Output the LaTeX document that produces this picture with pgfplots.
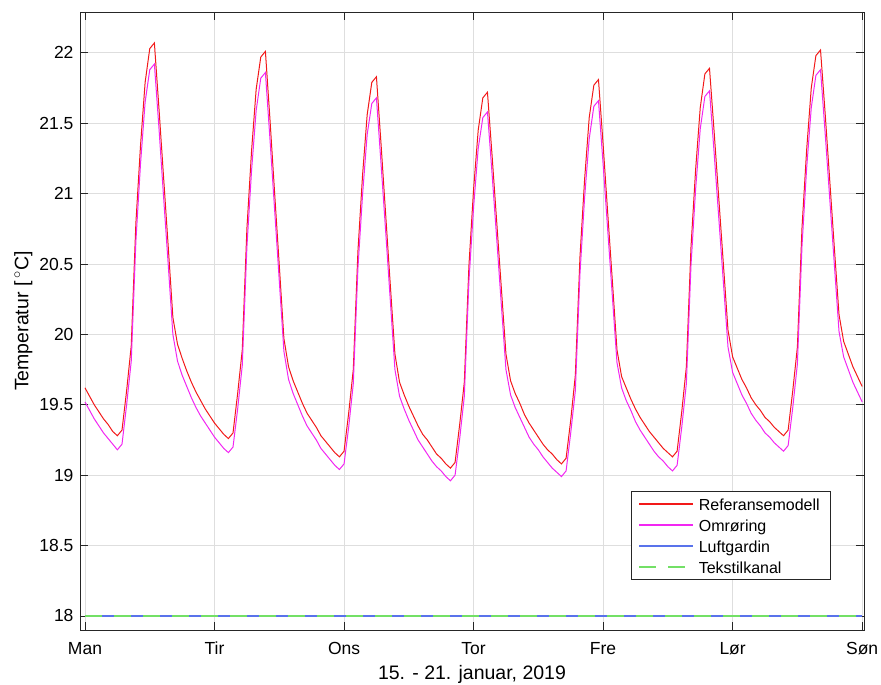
\documentclass[border=0pt]{standalone}
\usepackage{pgfplots}
\pgfplotsset{compat=1.18}
\usepackage{pgfplotstable}
\usepackage{fontspec}
\setmainfont{Liberation Sans}
\definecolor{axgray}{rgb}{0.15,0.15,0.15}
\definecolor{gridgray}{rgb}{0.87,0.87,0.87}
\definecolor{mred}{rgb}{0.95,0.1,0.1}
\definecolor{mmag}{rgb}{0.95,0.15,0.95}
\definecolor{mblue}{rgb}{0.35,0.45,0.92}
\definecolor{mgreen}{rgb}{0.45,0.88,0.4}
\pgfplotstableread{
h ref omr
0 19.62 19.52
1 19.56 19.46
2 19.50 19.40
3 19.45 19.35
4 19.40 19.30
5 19.36 19.26
6 19.31 19.22
7 19.28 19.18
8 19.32 19.22
9 19.60 19.50
10 19.92 19.81
11 20.79 20.66
12 21.34 21.21
13 21.79 21.65
14 22.03 21.88
15 22.07 21.92
16 21.60 21.46
17 21.11 20.97
18 20.62 20.49
19 20.12 20.00
20 19.93 19.81
21 19.83 19.71
22 19.74 19.63
23 19.66 19.55
24 19.59 19.48
25 19.53 19.42
26 19.47 19.37
27 19.42 19.32
28 19.37 19.27
29 19.33 19.23
30 19.29 19.19
31 19.26 19.16
32 19.30 19.20
33 19.58 19.47
34 19.89 19.78
35 20.75 20.62
36 21.30 21.16
37 21.74 21.59
38 21.97 21.82
39 22.01 21.86
40 21.52 21.38
41 21.00 20.88
42 20.49 20.38
43 19.97 19.88
44 19.77 19.68
45 19.67 19.58
46 19.59 19.50
47 19.51 19.42
48 19.44 19.35
49 19.39 19.30
50 19.34 19.25
51 19.28 19.19
52 19.24 19.15
53 19.20 19.11
54 19.16 19.07
55 19.13 19.04
56 19.17 19.08
57 19.44 19.34
58 19.75 19.65
59 20.59 20.47
60 21.13 20.99
61 21.56 21.42
62 21.79 21.64
63 21.83 21.68
64 21.35 21.21
65 20.85 20.73
66 20.35 20.24
67 19.86 19.75
68 19.66 19.56
69 19.57 19.47
70 19.49 19.39
71 19.42 19.32
72 19.35 19.25
73 19.29 19.20
74 19.25 19.15
75 19.20 19.10
76 19.15 19.06
77 19.12 19.03
78 19.08 18.99
79 19.05 18.96
80 19.09 19.00
81 19.36 19.26
82 19.66 19.56
83 20.49 20.38
84 21.03 20.90
85 21.45 21.32
86 21.68 21.54
87 21.72 21.58
88 21.27 21.14
89 20.80 20.68
90 20.33 20.21
91 19.86 19.75
92 19.67 19.57
93 19.58 19.48
94 19.51 19.41
95 19.43 19.34
96 19.37 19.27
97 19.32 19.22
98 19.27 19.18
99 19.22 19.13
100 19.18 19.09
101 19.15 19.05
102 19.11 19.02
103 19.08 18.99
104 19.12 19.03
105 19.39 19.30
106 19.71 19.60
107 20.55 20.43
108 21.10 20.97
109 21.54 21.39
110 21.77 21.62
111 21.81 21.66
112 21.35 21.21
113 20.86 20.74
114 20.38 20.27
115 19.89 19.80
116 19.70 19.62
117 19.62 19.53
118 19.54 19.46
119 19.47 19.38
120 19.41 19.32
121 19.36 19.27
122 19.31 19.22
123 19.27 19.17
124 19.23 19.13
125 19.19 19.10
126 19.16 19.06
127 19.13 19.03
128 19.17 19.07
129 19.45 19.34
130 19.77 19.65
131 20.62 20.49
132 21.17 21.03
133 21.61 21.46
134 21.85 21.69
135 21.89 21.73
136 21.44 21.29
137 20.97 20.83
138 20.50 20.37
139 20.03 19.91
140 19.84 19.73
141 19.76 19.65
142 19.68 19.57
143 19.62 19.51
144 19.55 19.44
145 19.50 19.39
146 19.46 19.35
147 19.41 19.30
148 19.38 19.27
149 19.34 19.23
150 19.31 19.20
151 19.28 19.17
152 19.32 19.21
153 19.60 19.48
154 19.91 19.79
155 20.76 20.63
156 21.31 21.18
157 21.75 21.61
158 21.98 21.84
159 22.02 21.88
160 21.57 21.43
161 21.09 20.96
162 20.61 20.49
163 20.14 20.02
164 19.95 19.84
165 19.86 19.75
166 19.77 19.66
167 19.70 19.59
168 19.63 19.52
}\tempdata
\begin{document}
\begin{tikzpicture}
\useasboundingbox (-80pt,-55pt) rectangle (801pt,630pt);
\begin{axis}[
  scale only axis,
  width=784pt, height=618pt,
  xmin=-1.08, xmax=168.4,
  ymin=17.9, ymax=22.29,
  xtick={0,28,56,84,112,140,168},
  xticklabels={Man,Tir,Ons,Tor,Fre,Lør,Søn},
  ytick={18,18.5,19,19.5,20,20.5,21,21.5,22},
  /pgf/number format/assume math mode=true,
  ticklabel style={font=\fontsize{17.5}{21}\selectfont},
  yticklabel style={xshift=-3pt},
  xticklabel style={anchor=base, yshift=-25pt},
  grid=major,
  major grid style={gridgray, line width=0.7pt},
  axis line style={axgray, line width=0.8pt},
  tick style={axgray, line width=0.8pt},
  tick align=inside,
  major tick length=8pt,
  xlabel={15. - 21. januar, 2019},
  ylabel={Temperatur [\,$^\circ$C]},
  xlabel style={at={(axis description cs:0.5,0)}, anchor=base, yshift=-50pt},
  label style={font=\fontsize{19.5}{23}\selectfont},
  legend cell align=left,
  legend image code/.code={\draw[#1, line width=1.6pt] (0pt,0pt) -- (54pt,0pt);},
  legend style={at={(0.7028,0.2249)}, anchor=north west,
    draw=axgray, fill=white,
    font=\fontsize{16}{19}\selectfont,
    inner xsep=7pt, inner ysep=2pt, row sep=0pt, column sep=2pt,
    nodes={inner xsep=3pt, inner ysep=0pt, text height=17pt, text depth=4pt}},
]
\addplot[draw=mred, line width=1pt] table[x=h, y=ref] {\tempdata};
\addlegendentry{Referansemodell}
\addplot[draw=mmag, line width=1pt] table[x=h, y=omr] {\tempdata};
\addlegendentry{Omrøring}
\addplot[draw=mblue, line width=1.4pt] coordinates {(0,18) (168,18)};
\addlegendentry{Luftgardin}
\addplot[draw=mgreen, line width=1.4pt, dash pattern=on 17pt off 12pt] coordinates {(0,18) (168,18)};
\addlegendentry{Tekstilkanal}
\end{axis}
\end{tikzpicture}
\end{document}
